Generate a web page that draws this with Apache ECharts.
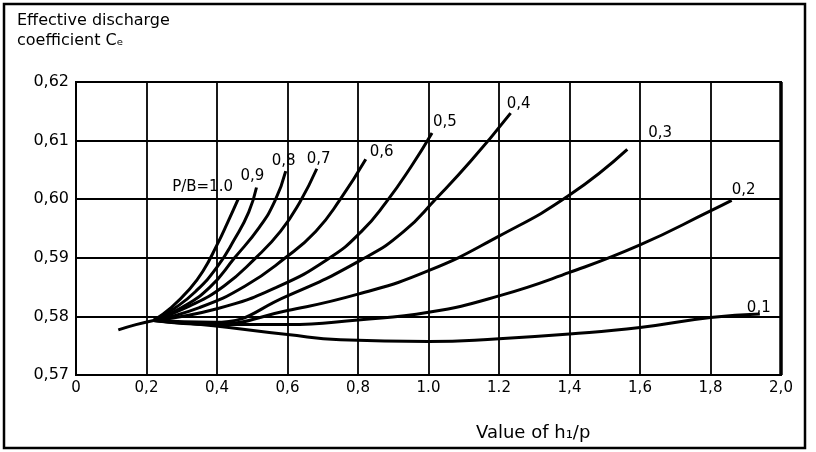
<!DOCTYPE html>
<html>
<head>
<meta charset="utf-8">
<script src="https://cdn.jsdelivr.net/npm/echarts@6/dist/echarts.min.js"></script>
<style>
  html, body { margin: 0; padding: 0; background: #fff; }
  #chart { width: 816px; height: 452px; }
</style>
</head>
<body>
<div id="chart"></div>
<script>
// tick labels as printed on the figure
const xTickLabels = ['0', '0,2', '0,4', '0,6', '0,8', '1.0', '1.2', '1,4', '1,6', '1,8', '2,0'];
const yTickLabels = ['0,57', '0,58', '0,59', '0,60', '0,61', '0,62'];

// curve labels (P/B)
const curveNames = ['P/B=1.0', '0,9', '0,8', '0,7', '0,6', '0,5', '0,4', '0,3', '0,2', '0,1'];

// common tail on the left, before the curves split up
const tail = [[0.12, 0.5777], [0.17, 0.5786], [0.22, 0.5793]];

// value of h1/p , Ce
const pb10 = [[0.22, 0.5793], [0.27, 0.5815], [0.32, 0.5845], [0.36, 0.5877], [0.40, 0.5922], [0.43, 0.5960], [0.46, 0.600]];
const pb09 = [[0.22, 0.5793], [0.28, 0.5814], [0.34, 0.5843], [0.40, 0.5884], [0.45, 0.5932], [0.49, 0.5978], [0.512, 0.6020]];
const pb08 = [[0.22, 0.5793], [0.30, 0.5815], [0.38, 0.5850], [0.45, 0.5900], [0.52, 0.5952], [0.565, 0.5998], [0.595, 0.6048]];
const pb07 = [[0.22, 0.5793], [0.32, 0.5817], [0.42, 0.5852], [0.51, 0.5900], [0.58, 0.5945], [0.635, 0.5995], [0.683, 0.6052]];
const pb06 = [[0.22, 0.5793], [0.35, 0.5815], [0.48, 0.5852], [0.594, 0.5900], [0.68, 0.5945], [0.75, 0.6000], [0.822, 0.6068]];
const pb05 = [[0.22, 0.5793], [0.40, 0.5813], [0.57, 0.5850], [0.72, 0.5900], [0.81, 0.5945], [0.88, 0.5995], [0.95, 0.6055], [1.01, 0.6113]];
const pb04 = [[0.22, 0.5793], [0.39, 0.5790], [0.60, 0.5835], [0.82, 0.5900], [0.93, 0.5945], [1.02, 0.6000], [1.12, 0.6065], [1.233, 0.6147]];
const pb03 = [[0.22, 0.5793], [0.39, 0.5787], [0.60, 0.5810], [0.80, 0.5838], [1.00, 0.5878], [1.20, 0.5937], [1.40, 0.6007], [1.564, 0.6085]];
const pb02 = [[0.22, 0.5793], [0.39, 0.5786], [0.60, 0.5786], [0.80, 0.5794], [1.00, 0.5807], [1.20, 0.5835], [1.40, 0.5875], [1.60, 0.5922], [1.80, 0.5980], [1.86, 0.5998]];
const pb01 = [[0.22, 0.5794], [0.39, 0.5784], [0.60, 0.5769], [0.75, 0.5760], [1.00, 0.5757], [1.20, 0.5762], [1.40, 0.5770], [1.60, 0.5781], [1.80, 0.5798], [1.94, 0.5804]];

const curves = [pb10, pb09, pb08, pb07, pb06, pb05, pb04, pb03, pb02, pb01];

// where each label sits relative to the end of its curve (px)
const labelOffsets = [[-66, -12], [-16, -11], [-14, -10], [-10, -10], [4, -7], [1, -11], [-4, -9], [21, -16], [0, -10], [-13, -6]];

const FONT = '"DejaVu Sans", sans-serif';

const chart = echarts.init(document.getElementById('chart'), null, { renderer: 'canvas' });

const series = curves.map(function (d, i) {
  return {
    name: curveNames[i],
    type: 'line',
    data: d,
    smooth: 0.5,
    symbol: 'none',
    lineStyle: { color: '#000', width: 3 },
    z: 3
  };
});
series.push({
  name: 'tail',
  type: 'line',
  data: tail,
  smooth: true,
  symbol: 'none',
  lineStyle: { color: '#000', width: 3 },
  z: 3
});

chart.setOption({
  animation: false,
  backgroundColor: '#fff',
  grid: {
    left: 76,
    right: 35,
    top: 82,
    bottom: 77,
    show: true,
    borderColor: '#000',
    borderWidth: 2
  },
  xAxis: {
    type: 'value',
    min: 0,
    max: 2,
    interval: 0.2,
    axisLine: { lineStyle: { color: '#000', width: 2 } },
    axisTick: { show: false },
    splitLine: { lineStyle: { color: '#000', width: 1.8 } },
    axisLabel: {
      color: '#000',
      fontFamily: FONT,
      fontSize: 15,
      margin: 6,
      formatter: function (v) { return xTickLabels[Math.round(v / 0.2)]; }
    }
  },
  yAxis: {
    type: 'value',
    min: 0.57,
    max: 0.62,
    interval: 0.01,
    axisLine: { show: true, lineStyle: { color: '#000', width: 2 } },
    axisTick: { show: false },
    splitLine: { lineStyle: { color: '#000', width: 1.8 } },
    axisLabel: {
      color: '#000',
      fontFamily: FONT,
      fontSize: 16,
      margin: 7,
      formatter: function (v) { return yTickLabels[Math.round((v - 0.57) / 0.01)]; }
    }
  },
  series: series
});

// frame and texts around the plot
const graphics = [
  {
    type: 'rect',
    shape: { x: 4, y: 4, width: 801, height: 444 },
    style: { fill: 'none', stroke: '#000', lineWidth: 2.5 },
    z: 10
  },
  {
    type: 'line',
    shape: { x1: 781, y1: 82, x2: 781, y2: 375 },
    style: { stroke: '#000', lineWidth: 3.5 },
    z: 10
  },
  {
    type: 'text',
    x: 17, y: 21,
    style: { text: 'Effective discharge', fill: '#000', font: '16px ' + FONT, textVerticalAlign: 'middle' }
  },
  {
    type: 'text',
    x: 17, y: 41,
    style: { text: 'coefficient C\u2091', fill: '#000', font: '16px ' + FONT, textVerticalAlign: 'middle' }
  },
  {
    type: 'text',
    x: 476, y: 433,
    style: { text: 'Value of h\u2081/p', fill: '#000', font: '18px ' + FONT, textVerticalAlign: 'middle' }
  }
];

curves.forEach(function (d, i) {
  const end = chart.convertToPixel({ gridIndex: 0 }, d[d.length - 1]);
  graphics.push({
    type: 'text',
    x: end[0] + labelOffsets[i][0],
    y: end[1] + labelOffsets[i][1],
    style: { text: curveNames[i], fill: '#000', font: '15px ' + FONT, textVerticalAlign: 'middle' },
    z: 5
  });
});

chart.setOption({ graphic: graphics });
</script>
</body>
</html>
